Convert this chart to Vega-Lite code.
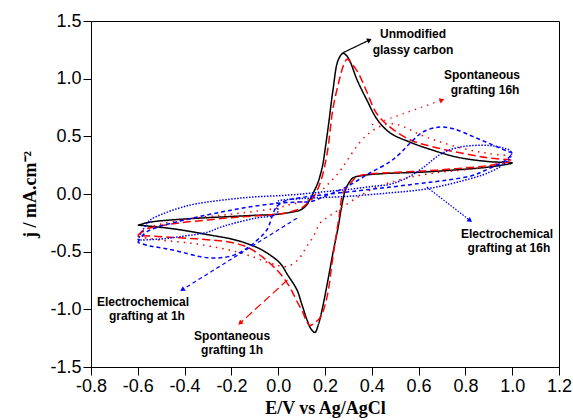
{
  "$schema": "https://vega.github.io/schema/vega-lite/v6.json",
  "width": 468,
  "height": 346,
  "autosize": {"type": "none"},
  "padding": {"left": 91, "top": 21, "right": 14, "bottom": 53},
  "background": "white",
  "config": {
    "view": {"stroke": "black", "strokeWidth": 1},
    "axis": {"grid": false, "domainColor": "black", "tickColor": "black", "labelColor": "black", "titleColor": "black", "domainWidth": 1, "tickWidth": 1}
  },
  "datasets": {
    "cv": [
      {"s":"GC","i":0,"x":-0.6,"y":-0.27},{"s":"GC","i":1,"x":-0.55,"y":-0.245},{"s":"GC","i":2,"x":-0.5,"y":-0.232},{"s":"GC","i":3,"x":-0.4,"y":-0.217},{"s":"GC","i":4,"x":-0.3,"y":-0.205},{"s":"GC","i":5,"x":-0.2,"y":-0.195},{"s":"GC","i":6,"x":-0.1,"y":-0.185},{"s":"GC","i":7,"x":0.0,"y":-0.175},{"s":"GC","i":8,"x":0.05,"y":-0.16},{"s":"GC","i":9,"x":0.093,"y":-0.14},{"s":"GC","i":10,"x":0.12,"y":-0.1},{"s":"GC","i":11,"x":0.135,"y":-0.05},{"s":"GC","i":12,"x":0.15,"y":0.01},{"s":"GC","i":13,"x":0.17,"y":0.1},{"s":"GC","i":14,"x":0.19,"y":0.25},{"s":"GC","i":15,"x":0.2,"y":0.38},{"s":"GC","i":16,"x":0.215,"y":0.6},{"s":"GC","i":17,"x":0.234,"y":0.9},{"s":"GC","i":18,"x":0.256,"y":1.16},{"s":"GC","i":19,"x":0.277,"y":1.22},{"s":"GC","i":20,"x":0.292,"y":1.2},{"s":"GC","i":21,"x":0.307,"y":1.15},{"s":"GC","i":22,"x":0.337,"y":0.99},{"s":"GC","i":23,"x":0.38,"y":0.81},{"s":"GC","i":24,"x":0.422,"y":0.65},{"s":"GC","i":25,"x":0.478,"y":0.53},{"s":"GC","i":26,"x":0.563,"y":0.45},{"s":"GC","i":27,"x":0.63,"y":0.4},{"s":"GC","i":28,"x":0.764,"y":0.32},{"s":"GC","i":29,"x":0.905,"y":0.28},{"s":"GC","i":30,"x":1.0,"y":0.27},
      {"s":"GC","i":31,"x":0.905,"y":0.235},{"s":"GC","i":32,"x":0.764,"y":0.21},{"s":"GC","i":33,"x":0.62,"y":0.19},{"s":"GC","i":34,"x":0.478,"y":0.18},{"s":"GC","i":35,"x":0.4,"y":0.17},{"s":"GC","i":36,"x":0.36,"y":0.16},{"s":"GC","i":37,"x":0.32,"y":0.14},{"s":"GC","i":38,"x":0.3,"y":0.09},{"s":"GC","i":39,"x":0.285,"y":0.02},{"s":"GC","i":40,"x":0.27,"y":-0.12},{"s":"GC","i":41,"x":0.256,"y":-0.29},{"s":"GC","i":42,"x":0.234,"y":-0.51},{"s":"GC","i":43,"x":0.215,"y":-0.72},{"s":"GC","i":44,"x":0.19,"y":-0.98},{"s":"GC","i":45,"x":0.172,"y":-1.13},{"s":"GC","i":46,"x":0.157,"y":-1.2},{"s":"GC","i":47,"x":0.14,"y":-1.17},{"s":"GC","i":48,"x":0.123,"y":-1.09},{"s":"GC","i":49,"x":0.1,"y":-0.95},{"s":"GC","i":50,"x":0.08,"y":-0.83},{"s":"GC","i":51,"x":0.04,"y":-0.7},{"s":"GC","i":52,"x":0.008,"y":-0.6},{"s":"GC","i":53,"x":-0.065,"y":-0.49},{"s":"GC","i":54,"x":-0.133,"y":-0.43},{"s":"GC","i":55,"x":-0.2,"y":-0.39},{"s":"GC","i":56,"x":-0.28,"y":-0.36},{"s":"GC","i":57,"x":-0.42,"y":-0.31},{"s":"GC","i":58,"x":-0.52,"y":-0.285},{"s":"GC","i":59,"x":-0.6,"y":-0.27},

      {"s":"S1","i":0,"x":-0.6,"y":-0.36},{"s":"S1","i":1,"x":-0.57,"y":-0.31},{"s":"S1","i":2,"x":-0.5,"y":-0.275},{"s":"S1","i":3,"x":-0.4,"y":-0.245},{"s":"S1","i":4,"x":-0.3,"y":-0.225},{"s":"S1","i":5,"x":-0.2,"y":-0.205},{"s":"S1","i":6,"x":-0.1,"y":-0.19},{"s":"S1","i":7,"x":0.0,"y":-0.175},{"s":"S1","i":8,"x":0.06,"y":-0.15},{"s":"S1","i":9,"x":0.1,"y":-0.12},{"s":"S1","i":10,"x":0.13,"y":-0.07},{"s":"S1","i":11,"x":0.15,"y":-0.03},{"s":"S1","i":12,"x":0.18,"y":0.1},{"s":"S1","i":13,"x":0.209,"y":0.35},{"s":"S1","i":14,"x":0.234,"y":0.74},{"s":"S1","i":15,"x":0.26,"y":0.98},{"s":"S1","i":16,"x":0.28,"y":1.12},{"s":"S1","i":17,"x":0.295,"y":1.17},{"s":"S1","i":18,"x":0.31,"y":1.14},{"s":"S1","i":19,"x":0.342,"y":1.05},{"s":"S1","i":20,"x":0.38,"y":0.88},{"s":"S1","i":21,"x":0.42,"y":0.7},{"s":"S1","i":22,"x":0.478,"y":0.58},{"s":"S1","i":23,"x":0.563,"y":0.47},{"s":"S1","i":24,"x":0.66,"y":0.41},{"s":"S1","i":25,"x":0.82,"y":0.34},{"s":"S1","i":26,"x":0.91,"y":0.31},{"s":"S1","i":27,"x":1.0,"y":0.29},
      {"s":"S1","i":28,"x":0.91,"y":0.25},{"s":"S1","i":29,"x":0.76,"y":0.22},{"s":"S1","i":30,"x":0.62,"y":0.2},{"s":"S1","i":31,"x":0.478,"y":0.185},{"s":"S1","i":32,"x":0.38,"y":0.17},{"s":"S1","i":33,"x":0.337,"y":0.15},{"s":"S1","i":34,"x":0.3,"y":0.07},{"s":"S1","i":35,"x":0.277,"y":0.01},{"s":"S1","i":36,"x":0.26,"y":-0.2},{"s":"S1","i":37,"x":0.243,"y":-0.42},{"s":"S1","i":38,"x":0.23,"y":-0.6},{"s":"S1","i":39,"x":0.209,"y":-0.89},{"s":"S1","i":40,"x":0.18,"y":-1.07},{"s":"S1","i":41,"x":0.15,"y":-1.125},{"s":"S1","i":42,"x":0.136,"y":-1.14},{"s":"S1","i":43,"x":0.12,"y":-1.1},{"s":"S1","i":44,"x":0.106,"y":-1.03},{"s":"S1","i":45,"x":0.08,"y":-0.93},{"s":"S1","i":46,"x":0.05,"y":-0.81},{"s":"S1","i":47,"x":0.02,"y":-0.72},{"s":"S1","i":48,"x":-0.005,"y":-0.66},{"s":"S1","i":49,"x":-0.065,"y":-0.55},{"s":"S1","i":50,"x":-0.133,"y":-0.46},{"s":"S1","i":51,"x":-0.2,"y":-0.42},{"s":"S1","i":52,"x":-0.28,"y":-0.4},{"s":"S1","i":53,"x":-0.42,"y":-0.38},{"s":"S1","i":54,"x":-0.5,"y":-0.37},{"s":"S1","i":55,"x":-0.6,"y":-0.36},

      {"s":"S16","i":0,"x":-0.6,"y":-0.37},{"s":"S16","i":1,"x":-0.56,"y":-0.3},{"s":"S16","i":2,"x":-0.5,"y":-0.26},{"s":"S16","i":3,"x":-0.4,"y":-0.22},{"s":"S16","i":4,"x":-0.3,"y":-0.195},{"s":"S16","i":5,"x":-0.2,"y":-0.175},{"s":"S16","i":6,"x":-0.1,"y":-0.15},{"s":"S16","i":7,"x":0.0,"y":-0.12},{"s":"S16","i":8,"x":0.05,"y":-0.09},{"s":"S16","i":9,"x":0.1,"y":-0.07},{"s":"S16","i":10,"x":0.15,"y":-0.03},{"s":"S16","i":11,"x":0.22,"y":0.1},{"s":"S16","i":12,"x":0.264,"y":0.2},{"s":"S16","i":13,"x":0.294,"y":0.29},{"s":"S16","i":14,"x":0.35,"y":0.45},{"s":"S16","i":15,"x":0.39,"y":0.53},{"s":"S16","i":16,"x":0.44,"y":0.59},{"s":"S16","i":17,"x":0.49,"y":0.61},{"s":"S16","i":18,"x":0.54,"y":0.58},{"s":"S16","i":19,"x":0.6,"y":0.52},{"s":"S16","i":20,"x":0.68,"y":0.46},{"s":"S16","i":21,"x":0.8,"y":0.39},{"s":"S16","i":22,"x":0.9,"y":0.35},{"s":"S16","i":23,"x":1.0,"y":0.32},
      {"s":"S16","i":24,"x":0.9,"y":0.24},{"s":"S16","i":25,"x":0.8,"y":0.21},{"s":"S16","i":26,"x":0.7,"y":0.19},{"s":"S16","i":27,"x":0.6,"y":0.16},{"s":"S16","i":28,"x":0.478,"y":0.1},{"s":"S16","i":29,"x":0.4,"y":0.04},{"s":"S16","i":30,"x":0.33,"y":-0.04},{"s":"S16","i":31,"x":0.27,"y":-0.12},{"s":"S16","i":32,"x":0.22,"y":-0.19},{"s":"S16","i":33,"x":0.18,"y":-0.25},{"s":"S16","i":34,"x":0.15,"y":-0.37},{"s":"S16","i":35,"x":0.12,"y":-0.46},{"s":"S16","i":36,"x":0.093,"y":-0.55},{"s":"S16","i":37,"x":0.06,"y":-0.61},{"s":"S16","i":38,"x":0.03,"y":-0.63},{"s":"S16","i":39,"x":0.0,"y":-0.62},{"s":"S16","i":40,"x":-0.05,"y":-0.59},{"s":"S16","i":41,"x":-0.1,"y":-0.55},{"s":"S16","i":42,"x":-0.2,"y":-0.49},{"s":"S16","i":43,"x":-0.3,"y":-0.45},{"s":"S16","i":44,"x":-0.4,"y":-0.42},{"s":"S16","i":45,"x":-0.5,"y":-0.4},{"s":"S16","i":46,"x":-0.6,"y":-0.37},

      {"s":"E1","i":0,"x":-0.6,"y":-0.42},{"s":"E1","i":1,"x":-0.57,"y":-0.34},{"s":"E1","i":2,"x":-0.52,"y":-0.29},{"s":"E1","i":3,"x":-0.42,"y":-0.235},{"s":"E1","i":4,"x":-0.3,"y":-0.18},{"s":"E1","i":5,"x":-0.2,"y":-0.14},{"s":"E1","i":6,"x":-0.1,"y":-0.105},{"s":"E1","i":7,"x":0.0,"y":-0.08},{"s":"E1","i":8,"x":0.08,"y":-0.07},{"s":"E1","i":9,"x":0.14,"y":-0.065},{"s":"E1","i":10,"x":0.2,"y":-0.02},{"s":"E1","i":11,"x":0.29,"y":0.06},{"s":"E1","i":12,"x":0.39,"y":0.18},{"s":"E1","i":13,"x":0.478,"y":0.28},{"s":"E1","i":14,"x":0.52,"y":0.35},{"s":"E1","i":15,"x":0.563,"y":0.44},{"s":"E1","i":16,"x":0.62,"y":0.54},{"s":"E1","i":17,"x":0.69,"y":0.58},{"s":"E1","i":18,"x":0.75,"y":0.565},{"s":"E1","i":19,"x":0.83,"y":0.5},{"s":"E1","i":20,"x":0.9,"y":0.44},{"s":"E1","i":21,"x":0.98,"y":0.37},{"s":"E1","i":22,"x":1.0,"y":0.355},
      {"s":"E1","i":23,"x":0.97,"y":0.29},{"s":"E1","i":24,"x":0.9,"y":0.22},{"s":"E1","i":25,"x":0.83,"y":0.16},{"s":"E1","i":26,"x":0.7,"y":0.115},{"s":"E1","i":27,"x":0.6,"y":0.09},{"s":"E1","i":28,"x":0.48,"y":0.06},{"s":"E1","i":29,"x":0.35,"y":0.03},{"s":"E1","i":30,"x":0.2,"y":-0.005},{"s":"E1","i":31,"x":0.1,"y":-0.03},{"s":"E1","i":32,"x":0.03,"y":-0.06},{"s":"E1","i":33,"x":-0.01,"y":-0.12},{"s":"E1","i":34,"x":-0.048,"y":-0.31},{"s":"E1","i":35,"x":-0.09,"y":-0.4},{"s":"E1","i":36,"x":-0.133,"y":-0.47},{"s":"E1","i":37,"x":-0.19,"y":-0.53},{"s":"E1","i":38,"x":-0.26,"y":-0.555},{"s":"E1","i":39,"x":-0.33,"y":-0.545},{"s":"E1","i":40,"x":-0.42,"y":-0.5},{"s":"E1","i":41,"x":-0.49,"y":-0.47},{"s":"E1","i":42,"x":-0.55,"y":-0.45},{"s":"E1","i":43,"x":-0.6,"y":-0.42},

      {"s":"E16","i":0,"x":-0.6,"y":-0.4},{"s":"E16","i":1,"x":-0.575,"y":-0.3},{"s":"E16","i":2,"x":-0.55,"y":-0.23},{"s":"E16","i":3,"x":-0.49,"y":-0.17},{"s":"E16","i":4,"x":-0.42,"y":-0.12},{"s":"E16","i":5,"x":-0.35,"y":-0.085},{"s":"E16","i":6,"x":-0.206,"y":-0.045},{"s":"E16","i":7,"x":-0.1,"y":-0.025},{"s":"E16","i":8,"x":0.0,"y":-0.015},{"s":"E16","i":9,"x":0.1,"y":0.0},{"s":"E16","i":10,"x":0.2,"y":0.02},{"s":"E16","i":11,"x":0.3,"y":0.04},{"s":"E16","i":12,"x":0.4,"y":0.065},{"s":"E16","i":13,"x":0.478,"y":0.085},{"s":"E16","i":14,"x":0.55,"y":0.14},{"s":"E16","i":15,"x":0.62,"y":0.23},{"s":"E16","i":16,"x":0.69,"y":0.34},{"s":"E16","i":17,"x":0.76,"y":0.4},{"s":"E16","i":18,"x":0.83,"y":0.42},{"s":"E16","i":19,"x":0.905,"y":0.42},{"s":"E16","i":20,"x":0.96,"y":0.4},{"s":"E16","i":21,"x":0.995,"y":0.37},
      {"s":"E16","i":22,"x":0.995,"y":0.33},{"s":"E16","i":23,"x":0.97,"y":0.27},{"s":"E16","i":24,"x":0.905,"y":0.19},{"s":"E16","i":25,"x":0.76,"y":0.1},{"s":"E16","i":26,"x":0.62,"y":0.04},{"s":"E16","i":27,"x":0.478,"y":0.01},{"s":"E16","i":28,"x":0.3,"y":-0.02},{"s":"E16","i":29,"x":0.1,"y":-0.04},{"s":"E16","i":30,"x":0.0,"y":-0.06},{"s":"E16","i":31,"x":-0.005,"y":-0.07},{"s":"E16","i":32,"x":-0.005,"y":-0.17},{"s":"E16","i":33,"x":-0.1,"y":-0.21},{"s":"E16","i":34,"x":-0.2,"y":-0.26},{"s":"E16","i":35,"x":-0.25,"y":-0.29},{"s":"E16","i":36,"x":-0.3,"y":-0.33},{"s":"E16","i":37,"x":-0.42,"y":-0.37},{"s":"E16","i":38,"x":-0.5,"y":-0.39},{"s":"E16","i":39,"x":-0.6,"y":-0.4}
    ],
    "arrows": [
      {"s":"GC","a":"GC","x":0.277,"y":1.225,"xe":0.39,"ye":1.335},
      {"s":"S16","a":"S16","x":0.40,"y":0.6,"xe":0.70,"ye":0.815},
      {"s":"E16","a":"E16","x":0.635,"y":0.06,"xe":0.82,"ye":-0.23},
      {"s":"S1","a":"S1","x":0.04,"y":-0.745,"xe":-0.163,"ye":-1.12},
      {"s":"E1","a":"E1","x":0.08,"y":-0.21,"xe":-0.41,"ye":-0.83}
    ],
    "labels": [
      {"x":0.576,"y":1.387,"t":"Unmodified"},
      {"x":0.576,"y":1.249,"t":"glassy carbon"},
      {"x":0.871,"y":1.032,"t":"Spontaneous"},
      {"x":0.884,"y":0.902,"t":"grafting 16h"},
      {"x":0.978,"y":-0.347,"t":"Electrochemical"},
      {"x":0.986,"y":-0.468,"t":"grafting at 16h"},
      {"x":-0.578,"y":-0.936,"t":"Electrochemical"},
      {"x":-0.561,"y":-1.058,"t":"grafting at 1h"},
      {"x":-0.197,"y":-1.231,"t":"Spontaneous"},
      {"x":-0.197,"y":-1.353,"t":"grafting 1h"}
    ]
  },
  "layer": [
    {
      "data": {"name": "cv"},
      "mark": {"type": "line", "strokeWidth": 1.5, "interpolate": "catmull-rom", "clip": true},
      "encoding": {
        "x": {"field": "x", "type": "quantitative",
          "scale": {"domain": [-0.8, 1.2], "nice": false, "zero": false},
          "axis": {
            "title": "E/V vs Ag/AgCl",
            "titleFont": "Liberation Serif", "titleFontSize": 18, "titleFontWeight": "bold", "titlePadding": 4,
            "values": [-0.8,-0.7,-0.6,-0.5,-0.4,-0.3,-0.2,-0.1,0,0.1,0.2,0.3,0.4,0.5,0.6,0.7,0.8,0.9,1.0,1.1,1.2],
            "labelExpr": "abs(round(datum.value*10)) % 2 == 0 ? (datum.value < -0.001 ? '-' : '') + format(abs(datum.value), '.1f') : ''",
            "tickSize": {"condition": {"test": "abs(round(datum.value*10)) % 2 == 1", "value": 4}, "value": 8},
            "labelFont": "Liberation Sans", "labelFontSize": 18, "labelPadding": 2, "labelFlush": false, "labelOverlap": false
          }
        },
        "y": {"field": "y", "type": "quantitative",
          "scale": {"domain": [-1.5, 1.5], "nice": false, "zero": false},
          "axis": {
            "title": "j / mA.cm⁻²",
            "titleFont": "Liberation Serif", "titleFontSize": 18, "titleFontWeight": "bold", "titlePadding": 10,
            "values": [-1.5,-1.25,-1,-0.75,-0.5,-0.25,0,0.25,0.5,0.75,1,1.25,1.5],
            "labelExpr": "abs(round(datum.value*4)) % 2 == 0 ? (datum.value < -0.001 ? '-' : '') + format(abs(datum.value), '.1f') : ''",
            "tickSize": {"condition": {"test": "abs(round(datum.value*4)) % 2 == 1", "value": 4}, "value": 8},
            "labelFont": "Liberation Sans", "labelFontSize": 18, "labelPadding": 2, "labelFlush": false, "labelOverlap": false
          }
        },
        "order": {"field": "i", "type": "quantitative"},
        "color": {"field": "s", "type": "nominal", "legend": null,
          "scale": {"domain": ["GC","S1","S16","E1","E16"], "range": ["#000000","#ff0000","#ff0000","#0000ff","#0000ff"]}},
        "strokeDash": {"field": "s", "type": "nominal", "legend": null,
          "scale": {"domain": ["GC","S1","S16","E1","E16"], "range": [[1,0],[8,4],[1.5,5],[4,3],[1.5,1.5]]}}
      }
    },
    {
      "data": {"name": "arrows"},
      "mark": {"type": "rule", "strokeWidth": 1.2},
      "encoding": {
        "x": {"field": "x", "type": "quantitative"},
        "y": {"field": "y", "type": "quantitative"},
        "x2": {"field": "xe"},
        "y2": {"field": "ye"},
        "color": {"field": "s", "type": "nominal", "legend": null},
        "strokeDash": {"field": "s", "type": "nominal", "legend": null}
      }
    },
    {"data": {"name": "arrows"}, "transform": [{"filter": "datum.a == 'GC'"}],
     "mark": {"type": "point", "shape": "triangle-right", "filled": true, "size": 30, "angle": 334, "opacity": 1},
     "encoding": {"x": {"field": "xe", "type": "quantitative"}, "y": {"field": "ye", "type": "quantitative"}, "color": {"field": "s", "type": "nominal", "legend": null}}},
    {"data": {"name": "arrows"}, "transform": [{"filter": "datum.a == 'S16'"}],
     "mark": {"type": "point", "shape": "triangle-right", "filled": true, "size": 30, "angle": 340, "opacity": 1},
     "encoding": {"x": {"field": "xe", "type": "quantitative"}, "y": {"field": "ye", "type": "quantitative"}, "color": {"field": "s", "type": "nominal", "legend": null}}},
    {"data": {"name": "arrows"}, "transform": [{"filter": "datum.a == 'E16'"}],
     "mark": {"type": "point", "shape": "triangle-right", "filled": true, "size": 30, "angle": 38, "opacity": 1},
     "encoding": {"x": {"field": "xe", "type": "quantitative"}, "y": {"field": "ye", "type": "quantitative"}, "color": {"field": "s", "type": "nominal", "legend": null}}},
    {"data": {"name": "arrows"}, "transform": [{"filter": "datum.a == 'S1'"}],
     "mark": {"type": "point", "shape": "triangle-right", "filled": true, "size": 30, "angle": 138, "opacity": 1},
     "encoding": {"x": {"field": "xe", "type": "quantitative"}, "y": {"field": "ye", "type": "quantitative"}, "color": {"field": "s", "type": "nominal", "legend": null}}},
    {"data": {"name": "arrows"}, "transform": [{"filter": "datum.a == 'E1'"}],
     "mark": {"type": "point", "shape": "triangle-right", "filled": true, "size": 30, "angle": 148, "opacity": 1},
     "encoding": {"x": {"field": "xe", "type": "quantitative"}, "y": {"field": "ye", "type": "quantitative"}, "color": {"field": "s", "type": "nominal", "legend": null}}},
    {
      "data": {"name": "labels"},
      "mark": {"type": "text", "font": "Liberation Sans", "fontWeight": "bold", "fontSize": 12, "align": "center", "baseline": "middle", "color": "black"},
      "encoding": {
        "x": {"field": "x", "type": "quantitative"},
        "y": {"field": "y", "type": "quantitative"},
        "text": {"field": "t", "type": "nominal"}
      }
    }
  ]
}
